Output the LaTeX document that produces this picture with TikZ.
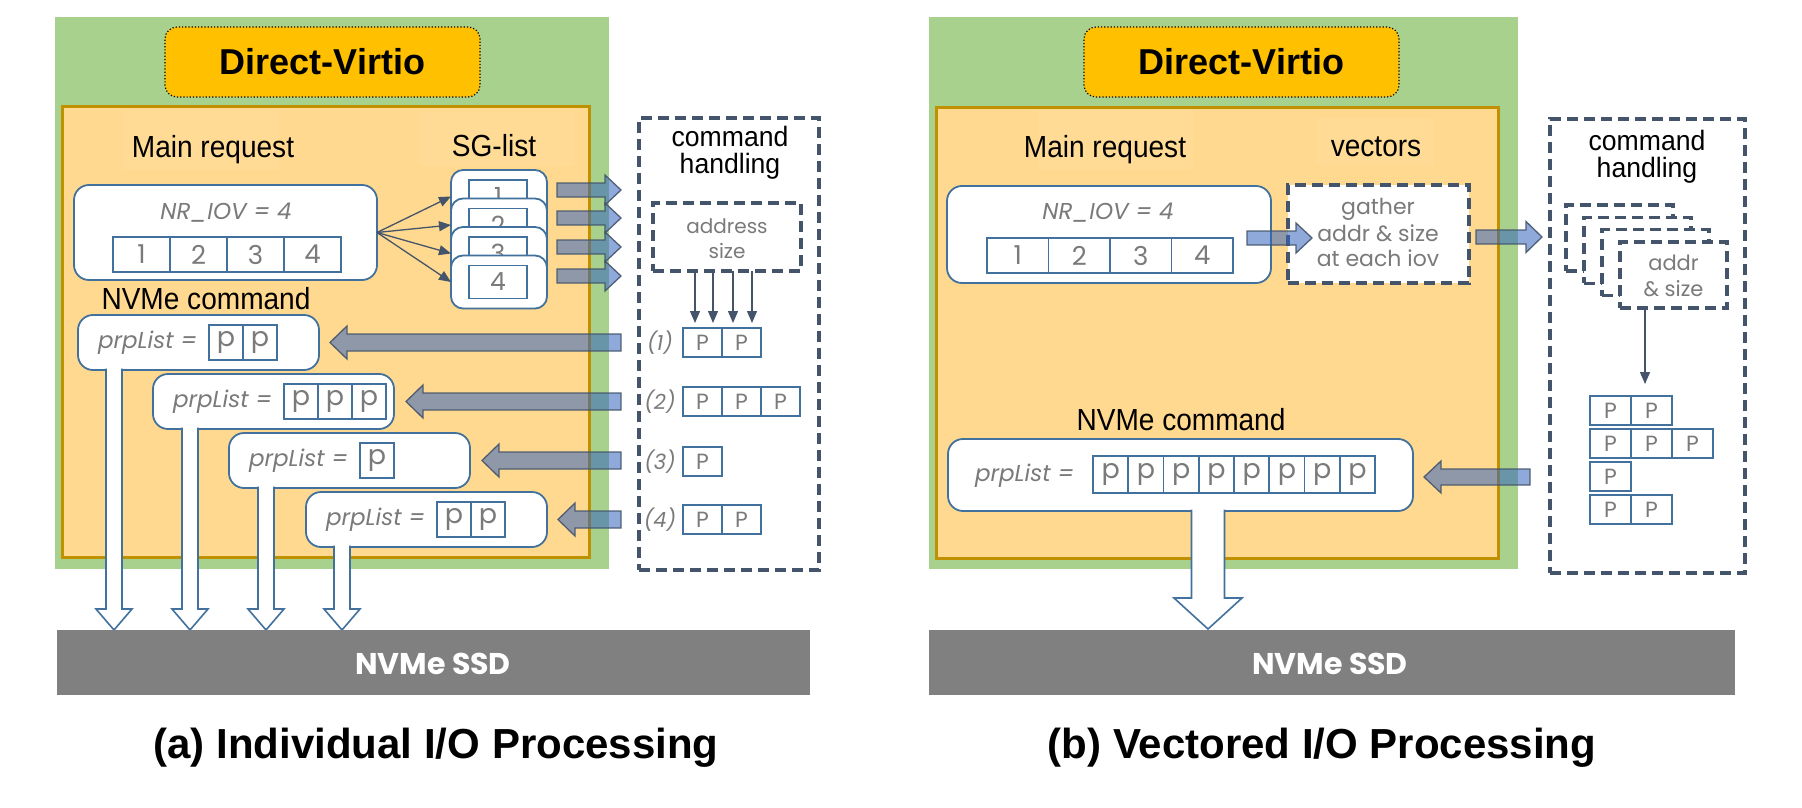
\documentclass[tikz,border=0pt]{standalone}
\usepackage{graphicx}
\usepackage{fontspec}
\setmainfont{Liberation Sans}
\newfontfamily\goth{Poppins}
\usetikzlibrary{arrows.meta,calc}
\definecolor{grn}{HTML}{A9D18E}
\definecolor{org}{HTML}{FFD98F}
\definecolor{orgline}{HTML}{BF9000}
\definecolor{dvfill}{HTML}{FFC000}
\definecolor{bline}{HTML}{41719C}
\definecolor{dline}{HTML}{44546A}
\definecolor{gtxt}{HTML}{7A7A7A}
\definecolor{ssd}{HTML}{808080}
\definecolor{arr}{RGB}{51,100,191}
\definecolor{patch}{HTML}{FFDB96}
\newcommand\fs[2]{\fontsize{#1}{#2}\selectfont}
% rectangle node from (x1,y1) to (x2,y2)
\newcommand\rbox[6]{\node[#1, anchor=north west, inner sep=0pt, outer sep=0pt,
  minimum width={((#5)-(#3))*1pt}, minimum height={((#6)-(#4))*1pt}] (#2) at ({#3},{#4}) {};}
% horizontal block arrow: x start, x tip, y, shaft half, head half, head length
\newcommand\hblock[6]{%
  \pgfmathsetmacro\hbx{ifthenelse(#2>#1,#2-#6,#2+#6)}%
  \draw[blockarr] (#1,{#3-#4}) -- (\hbx,{#3-#4}) -- (\hbx,{#3-#5}) -- (#2,#3)
    -- (\hbx,{#3+#5}) -- (\hbx,{#3+#4}) -- (#1,{#3+#4}) -- cycle;}
% hollow down arrow: x, y top, y tip, shaft half, head half, head length
\newcommand\vhollow[6]{%
  \draw[hollow] ({#1-#4},#2) -- ({#1-#4},{#3-#6}) -- ({#1-#5},{#3-#6}) -- (#1,#3)
    -- ({#1+#5},{#3-#6}) -- ({#1+#4},{#3-#6}) -- ({#1+#4},#2);}
% prpList box: name, x, y, list of cells
\newcommand\prp[4]{%
  \rbox{bbox}{#1}{#2}{#3}{#2+241}{#3+55}
  \node[lbl, anchor=base west, font=\goth\itshape\fs{23}{25}, text=gtxt] (#1t) at ({#2+20},{#3+33}) {prpList =};
  \foreach \t [count=\k from 0] in {#4}
    {\node[cell, anchor=north west, minimum width=34pt, minimum height=35pt, font=\goth\fs{27}{29}]
      (#1c\k) at ({#2+131+34*\k},{#3+10}) {\t};}}
\begin{document}
\begin{tikzpicture}[x=1pt,y=-1pt,
  greenbox/.style={fill=grn, draw=none},
  orangebox/.style={fill=org, draw=orgline, line width=3pt},
  patchbox/.style={fill=patch, draw=none},
  dvbox/.style={fill=dvfill, draw=black, dotted, line width=1.2pt, rounded corners=12pt},
  bbox/.style={fill=white, draw=bline, line width=1.8pt, rounded corners=15pt},
  cell/.style={fill=white, draw=bline, line width=1.6pt, text=gtxt, inner sep=0pt, outer sep=0pt},
  dashbox/.style={draw=dline, line width=3.4pt, dash pattern=on 11pt off 6pt, fill=white},
  thinarr/.style={draw=dline, line width=1.3pt, -{Triangle[length=12pt,width=10pt]}},
  blockarr/.style={fill=arr, fill opacity=0.55, draw=dline, draw opacity=0.9, line width=1.3pt, line join=miter},
  hollow/.style={fill=white, draw=bline, line width=1.6pt},
  ssdbar/.style={fill=ssd, draw=none},
  lbl/.style={inner sep=0pt, outer sep=0pt, anchor=base},
  blk/.style={lbl, font=\fs{30.5}{34}},
  gry/.style={lbl, font=\goth\fs{21}{24}, text=gtxt},
]
\useasboundingbox[fill=white] (0,0) rectangle (1802,808);

%================ LEFT PANEL =================
\rbox{greenbox}{gL}{55}{17}{609}{569}
\rbox{orangebox}{oL}{62}{106}{589}{557}
\rbox{patchbox}{pL1}{123}{110}{279}{170}
\rbox{patchbox}{pL2}{420}{112}{575}{166}
\rbox{dvbox}{dvL}{165}{27}{480}{97}
\node[font=\fs{36}{40}\bfseries] (dvLt) at (dvL.center) {Direct-Virtio};
\node[blk] (mrL) at (213,157) {\scalebox{0.92}[1]{Main request}};
\node[blk] (sgL) at (494,156) {\scalebox{0.92}[1]{SG-list}};

% main request box
\rbox{bbox}{nrL}{74}{185}{377}{280}
\node[gry, font=\goth\itshape\fs{23}{25}] (nrLt) at (226,219) {NR\_IOV = 4};
\foreach \t [count=\k from 0] in {1,2,3,4}
  {\node[cell, anchor=north west, minimum width=57pt, minimum height=35pt, font=\goth\fs{26}{28}]
    (mcL\k) at ({113+57*\k},237) {\t};}

% SG-list boxes
\foreach \i in {1,...,4} {
  \pgfmathsetmacro\tp{170+28.5*(\i-1)}
  \rbox{bbox,rounded corners=12pt}{sgL\i}{451}{\tp}{547}{\tp+53}
  \rbox{cell}{sgiL\i}{469}{\tp+10}{527}{\tp+43}
  \node[font=\goth\fs{25}{27}, text=gtxt] (sglL\i) at (sgiL\i.center) {\i};
}
\foreach \i in {1,...,4} {\draw[thinarr] (nrL.east) -- (sgL\i.west);}
\foreach \yy in {190,218,247,276} {\hblock{557}{621}{\yy}{7}{15}{16}}

% NVMe commands
\node[blk] (ncL) at (206,309) {\scalebox{0.92}[1]{NVMe command}};
\prp{pb1}{78}{315}{p,p}
\prp{pb2}{153}{374}{p,p,p}
\prp{pb3}{229}{433}{p}
\prp{pb4}{306}{492}{p,p}
\vhollow{114}{368.5}{630}{8}{18}{21}
\vhollow{190}{427.5}{630}{8}{18}{21}
\vhollow{266}{486.5}{630}{8}{18}{21}
\vhollow{342}{545.5}{630}{8}{18}{21}

% command handling
\rbox{dashbox}{cmdL}{639}{118}{819}{570}
\node[lbl, font=\fs{28}{30}] (cmdLt1) at (730,146) {\scalebox{0.95}[1]{command}};
\node[lbl, font=\fs{28}{30}] (cmdLt2) at (730,173) {\scalebox{0.95}[1]{handling}};
\rbox{dashbox}{adrL}{653}{203}{801}{271}
\node[gry, font=\goth\fs{20}{22}] (adrLt1) at (727,233) {address};
\node[gry, font=\goth\fs{20}{22}] (adrLt2) at (727,258) {size};
\foreach \dx in {695,713,733,752} {\draw[thinarr] (adrL.south -| \dx,0) -- (\dx,323);}

\foreach \r/\tp/\lst in {1/328/{P,P},2/387/{P,P,P},3/447/{P},4/505/{P,P}} {
  \node[font=\goth\itshape\fs{21}{23}, text=gtxt] (rlL\r) at (660,{\tp+14.5}) {(\r)};
  \foreach \t [count=\k from 0] in \lst
    {\node[cell, anchor=north west, minimum width=39pt, minimum height=29pt, font=\goth\fs{22}{24}]
      (rcL\r\k) at ({683+39*\k},\tp) {\t};}
}
\hblock{621}{330}{342.5}{8.5}{16.5}{17}
\hblock{621}{406}{401.5}{8.5}{16.5}{17}
\hblock{621}{482}{460.5}{8.5}{16.5}{17}
\hblock{621}{558}{519.5}{8.5}{16.5}{17}

% SSD and caption
\rbox{ssdbar}{ssdL}{57}{630}{810}{695}
\node[font=\goth\bfseries\fs{30}{32}, text=white] (ssdLt) at (433,664) {NVMe SSD};
\node[lbl, font=\fs{42}{46}\bfseries] (capL) at (436,758) {(a) Individual I/O Processing};

%================ RIGHT PANEL =================
\rbox{greenbox}{gR}{929}{17}{1518}{569}
\rbox{orangebox}{oR}{936}{107}{1498}{558}
\rbox{patchbox}{pR1}{1038}{110}{1193}{170}
\rbox{patchbox}{pR2}{1317}{118}{1434}{165}
\rbox{dvbox}{dvR}{1084}{27}{1399}{97}
\node[font=\fs{36}{40}\bfseries] (dvRt) at (dvR.center) {Direct-Virtio};
\node[blk] (mrR) at (1105,157) {\scalebox{0.92}[1]{Main request}};
\node[blk] (vcR) at (1376,156) {\scalebox{0.92}[1]{vectors}};

\rbox{bbox}{nrR}{947}{186}{1271}{283}
\node[gry, font=\goth\itshape\fs{23}{25}] (nrRt) at (1108,219) {NR\_IOV = 4};
\foreach \t [count=\k from 0] in {1,2,3,4}
  {\node[cell, anchor=north west, minimum width=61.5pt, minimum height=35pt, font=\goth\fs{26}{28}]
    (mcR\k) at ({987+61.5*\k},238) {\t};}

\rbox{dashbox}{gaR}{1288}{185}{1469}{283}
\node[gry, font=\goth\fs{22}{24}] (gaRt1) at (1378,214) {gather};
\node[gry, font=\goth\fs{22}{24}] (gaRt2) at (1378,241) {addr \& size};
\node[gry, font=\goth\fs{22}{24}] (gaRt3) at (1378,266) {at each iov};
\hblock{1247}{1312}{238}{7}{15}{16}
\hblock{1476}{1542}{237}{7}{15.5}{16}

\rbox{dashbox}{cmdR}{1550}{119}{1745}{573}
\node[lbl, font=\fs{28}{30}] (cmdRt1) at (1647,150) {\scalebox{0.95}[1]{command}};
\node[lbl, font=\fs{28}{30}] (cmdRt2) at (1647,177) {\scalebox{0.95}[1]{handling}};
\foreach \j in {0,...,3}
  {\rbox{dashbox}{stR\j}{1566+18*\j}{205+12.3*\j}{1673+18*\j}{271+12.3*\j}}
\node[gry, font=\goth\fs{21}{23}] (stRt1) at (stR3.center |- 0,270) {addr};
\node[gry, font=\goth\fs{21}{23}] (stRt2) at (stR3.center |- 0,296) {\& size};
\draw[thinarr] (stR3.south -| 1645,0) -- (1645,384);
\foreach \r/\tp/\lst in {1/396/{P,P},2/429/{P,P,P},3/462/{P},4/495/{P,P}} {
  \foreach \t [count=\k from 0] in \lst
    {\node[cell, anchor=north west, minimum width=41pt, minimum height=29pt, font=\goth\fs{22}{24}]
      (rcR\r\k) at ({1590+41*\k},\tp) {\t};}
}
\hblock{1530}{1424}{477}{8}{16}{17}

\node[blk] (ncR) at (1181,430) {\scalebox{0.92}[1]{NVMe command}};
\rbox{bbox}{pbR}{948}{439}{1413}{511}
\node[lbl, anchor=base west, font=\goth\itshape\fs{23}{25}, text=gtxt] (pbRt) at (975,481) {prpList =};
\foreach \k in {0,...,7}
  {\node[cell, anchor=north west, minimum width=35.25pt, minimum height=37pt, font=\goth\fs{27}{29}]
    (pbRc\k) at ({1093+35.25*\k},456) {p};}
\vhollow{1208}{509.5}{629}{16.5}{34}{31}

\rbox{ssdbar}{ssdR}{929}{630}{1735}{695}
\node[font=\goth\bfseries\fs{30}{32}, text=white] (ssdRt) at (1330,664) {NVMe SSD};
\node[lbl, font=\fs{42}{46}\bfseries] (capR) at (1322,758) {(b) Vectored I/O Processing};
\end{tikzpicture}
\end{document}
